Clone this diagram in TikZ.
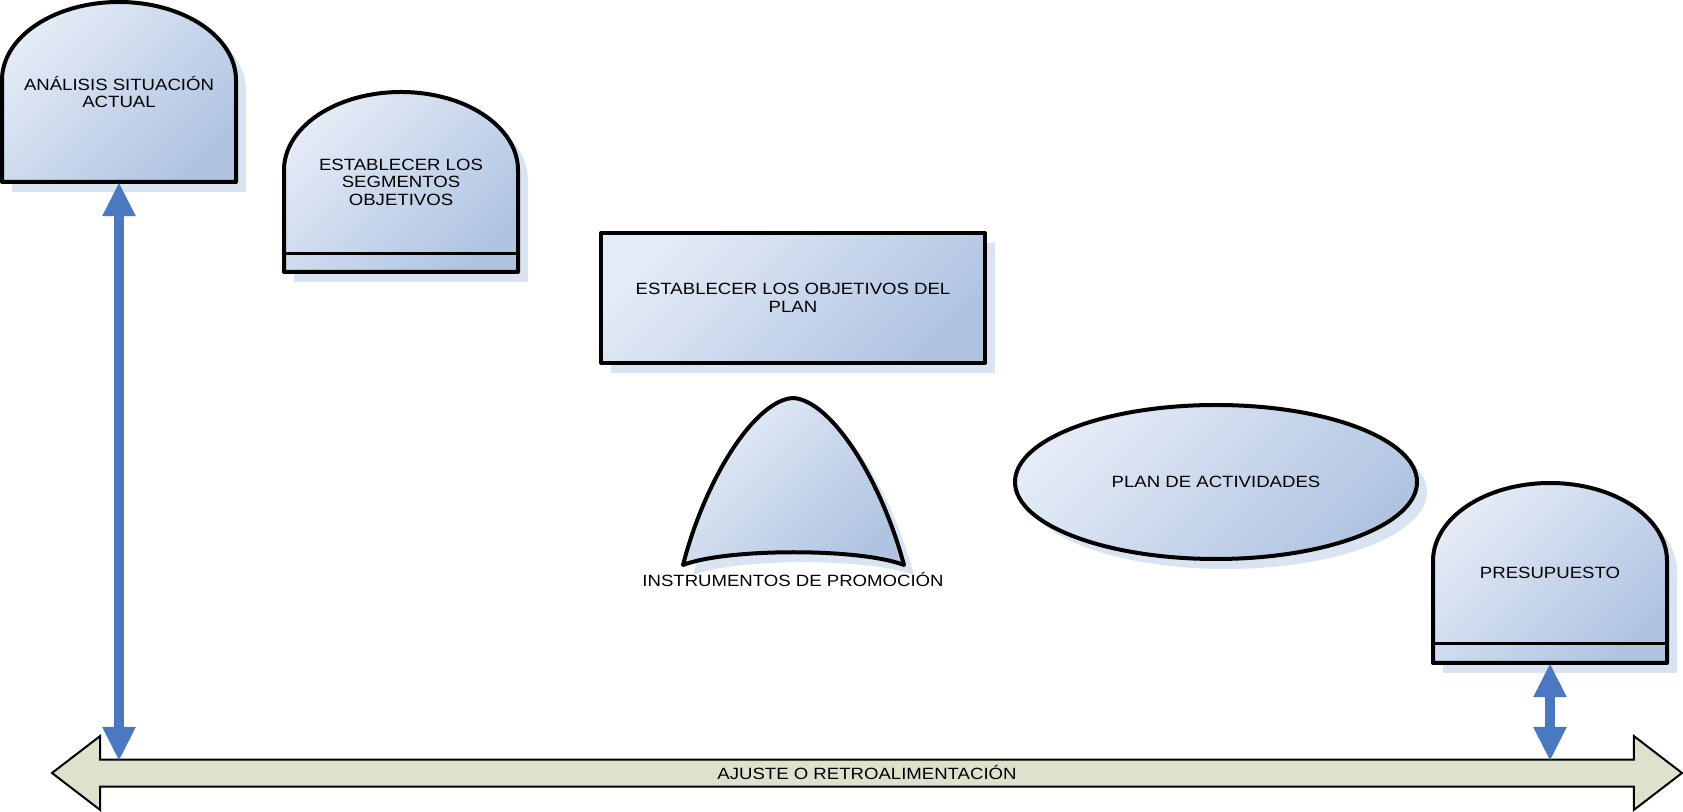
\documentclass[tikz,border=0pt]{standalone}
\usepackage{fontspec}
\setmainfont{Liberation Sans}[FakeStretch=1.14]
\definecolor{boxtop}{RGB}{228,235,246}
\definecolor{boxbot}{RGB}{176,196,226}
\definecolor{boxshd}{RGB}{218,227,242}
\definecolor{arrblue}{RGB}{74,120,193}
\definecolor{fbfill}{RGB}{221,226,204}
\usetikzlibrary{arrows.meta,shapes.arrows}

\begin{document}
\begin{tikzpicture}[x=1pt, y=1pt,
  shp/.style={draw=black, line width=4pt, line join=round, top color=boxtop, bottom color=boxbot, shading angle=45},
  shd/.style={fill=boxshd, draw=none},
  lbl/.style={font=\fontsize{16.3}{17.5}\selectfont, align=center, text=black},
  dbl/.style={draw=arrblue, line width=10pt, arrows={Triangle[length=34pt,width=31pt]-Triangle[length=34pt,width=31pt]}}
]
  \useasboundingbox (0,0) rectangle (1683,811);

  %% Shadows
  \fill[shd, shift={(10,-10)}] (2,629) -- (2,731) arc[start angle=180, end angle=0, x radius=117, y radius=78] -- (236,629) -- cycle;
  \fill[shd, shift={(10,-10)}] (284,539) -- (284,641) arc[start angle=180, end angle=0, x radius=117, y radius=78] -- (518,539) -- cycle;
  \fill[shd, shift={(10,-10)}] (601,448) rectangle (985,578);
  \fill[shd, shift={(10,-10)}] (683,246) .. controls (706,335) and (756,411) .. (793,413) .. controls (830,411) and (880,335) .. (904,246) .. controls (860,263) and (727,263) .. (683,246) -- cycle;
  \fill[shd, shift={(10,-10)}] (1216,329) ellipse [x radius=201, y radius=77];
  \fill[shd, shift={(10,-10)}] (1433,148) -- (1433,250) arc[start angle=180, end angle=0, x radius=117, y radius=78] -- (1667,148) -- cycle;

  %% Shapes
  \path[shp] (2,629) -- (2,731) arc[start angle=180, end angle=0, x radius=117, y radius=78] -- (236,629) -- cycle;
  \path[shp] (284,539) -- (284,641) arc[start angle=180, end angle=0, x radius=117, y radius=78] -- (518,539) -- cycle;
  \draw[line width=3pt] (284,557) -- (518,557);
  \path[shp] (601,448) rectangle (985,578);
  \path[shp] (683,246) .. controls (706,335) and (756,411) .. (793,413) .. controls (830,411) and (880,335) .. (904,246) .. controls (860,263) and (727,263) .. (683,246) -- cycle;
  \path[shp] (1216,329) ellipse [x radius=201, y radius=77];
  \path[shp] (1433,148) -- (1433,250) arc[start angle=180, end angle=0, x radius=117, y radius=78] -- (1667,148) -- cycle;
  \draw[line width=3pt] (1433,167) -- (1667,167);

  %% Labels
  \node[lbl, minimum width=234pt, minimum height=180pt] (ana) at (119,719) {ANÁLISIS SITUACIÓN\\ACTUAL};
  \node[lbl] (seg) at (401,629) {ESTABLECER LOS\\SEGMENTOS\\OBJETIVOS};
  \node[lbl] (obj) at (793,513) {ESTABLECER LOS OBJETIVOS DEL\\PLAN};
  \node[lbl] (ins) at (793,231) {INSTRUMENTOS DE PROMOCIÓN};
  \node[lbl] (act) at (1216,329) {PLAN DE ACTIVIDADES};
  \node[lbl, minimum width=234pt, minimum height=180pt] (pre) at (1550,238) {PRESUPUESTO};

  %% Feedback arrow
  \node[lbl, double arrow, draw=black, line width=2pt, fill=fbfill, minimum height=1630pt, text height=12pt, text depth=0pt, inner ysep=6.5pt, double arrow head extend=23.5pt, double arrow tip angle=75] (fb) at (867,38) {AJUSTE O RETROALIMENTACIÓN};

  %% Links
  \draw[dbl, shorten >=12pt] (ana.south) -- (ana.south |- fb.center);
  \draw[dbl, shorten >=12pt] (pre.south) -- (pre.south |- fb.center);
\end{tikzpicture}
\end{document}
